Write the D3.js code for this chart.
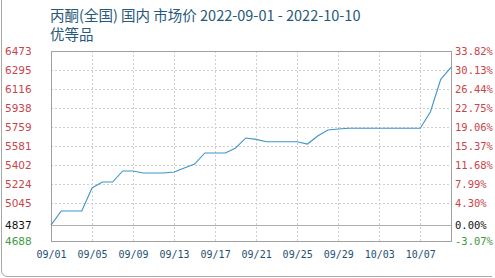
<!DOCTYPE html>
<html>
<head>
<meta charset="utf-8">
<script src="https://cdn.jsdelivr.net/npm/d3@7"></script>
<style>
  body { margin: 0; background: #fff; }
  svg { display: block; }
</style>
</head>
<body>
<script>
var svgWidth = 495;
var svgHeight = 278;

var margin = { top: 51, right: 44, bottom: 37, left: 51 };
var width = svgWidth - margin.left - margin.right;
var height = svgHeight - margin.top - margin.bottom;

// data
var dates = ["2022-09-01","2022-09-02","2022-09-03","2022-09-04","2022-09-05","2022-09-06","2022-09-07","2022-09-08",
  "2022-09-09","2022-09-10","2022-09-11","2022-09-12","2022-09-13","2022-09-14","2022-09-15","2022-09-16",
  "2022-09-17","2022-09-18","2022-09-19","2022-09-20","2022-09-21","2022-09-22","2022-09-23","2022-09-24",
  "2022-09-25","2022-09-26","2022-09-27","2022-09-28","2022-09-29","2022-09-30","2022-10-01","2022-10-02",
  "2022-10-03","2022-10-04","2022-10-05","2022-10-06","2022-10-07","2022-10-08","2022-10-09","2022-10-10"];
var prices = [4837,4970,4970,4970,5186,5242,5242,5346,
  5346,5327,5327,5327,5336,5374,5411,5515,
  5515,5515,5562,5656,5643,5621,5621,5621,
  5621,5599,5674,5731,5740,5747,5747,5747,
  5747,5747,5747,5747,5747,5903,6207,6320];

var basePrice = 4837;
var yTickValues = [6473, 6295, 6116, 5938, 5759, 5581, 5402, 5224, 5045, 4837, 4688];
var yTickLabels = ["6473","6295","6116","5938","5759","5581","5402","5224","5045","4837","4688"];
var pctLabels = ["33.82%","30.13%","26.44%","22.75%","19.06%","15.37%","11.68%","7.99%","4.30%","0.00%","-3.07%"];
var xTicks = ["2022-09-01","2022-09-05","2022-09-09","2022-09-13","2022-09-17","2022-09-21","2022-09-25","2022-09-29","2022-10-03","2022-10-07"];

var parseDate = d3.timeParse("%Y-%m-%d");
var data = dates.map(function(d, i) { return { date: parseDate(d), price: prices[i] }; });

var svg = d3.select("body")
  .append("svg")
  .attr("width", svgWidth)
  .attr("height", svgHeight);

// outer frame (left + bottom edges visible)
svg.append("path")
  .attr("d", "M1.5,0 L1.5,270 Q1.5,276.5 8,276.5 L492,276.5")
  .attr("fill", "none")
  .attr("stroke", "#a8a8a8");

// title
var title = svg.append("text")
  .attr("font-family", "'Noto Sans CJK SC', sans-serif")
  .attr("font-size", 14.5)
  .attr("fill", "#27597a");
title.append("tspan").attr("x", 50).attr("y", 21).text("丙酮(全国) 国内 市场价 2022-09-01 - 2022-10-10");
title.append("tspan").attr("x", 50).attr("y", 40).text("优等品");

var chartGroup = svg.append("g")
  .attr("transform", `translate(${margin.left}, ${margin.top})`);

var xScale = d3.scaleTime()
  .domain([parseDate(dates[0]), parseDate(dates[dates.length - 1])])
  .range([0, width]);

var yScale = d3.scaleLinear()
  .domain([4688, 6473])
  .range([height, 0]);

// horizontal grid
chartGroup.selectAll(".hgrid")
  .data(yTickValues.filter(v => v !== 6473 && v !== 4688 && v !== basePrice))
  .enter()
  .append("line")
  .attr("x1", 0)
  .attr("x2", width)
  .attr("y1", d => Math.round(yScale(d)) + 0.5)
  .attr("y2", d => Math.round(yScale(d)) + 0.5)
  .attr("stroke", "#cfcfcf")
  .attr("stroke-dasharray", "2,2");

// vertical grid
chartGroup.selectAll(".vgrid")
  .data(xTicks.slice(1))
  .enter()
  .append("line")
  .attr("x1", d => Math.round(xScale(parseDate(d))) + 0.5)
  .attr("x2", d => Math.round(xScale(parseDate(d))) + 0.5)
  .attr("y1", 0)
  .attr("y2", height)
  .attr("stroke", "#cfcfcf")
  .attr("stroke-dasharray", "2,2");

// base line
chartGroup.append("line")
  .attr("x1", 0)
  .attr("x2", width)
  .attr("y1", Math.round(yScale(basePrice)) + 0.5)
  .attr("y2", Math.round(yScale(basePrice)) + 0.5)
  .attr("stroke", "#b0b0b0");

// plot border
chartGroup.append("rect")
  .attr("x", 0.5)
  .attr("y", 0.5)
  .attr("width", width)
  .attr("height", height)
  .attr("fill", "none")
  .attr("stroke", "#a0a0a0");

// axes
function tickColor(v) {
  if (v > basePrice) return "#c8454a";
  if (v < basePrice) return "#3f9a3f";
  return "#111";
}

var leftAxis = d3.axisLeft(yScale)
  .tickValues(yTickValues)
  .tickSize(0)
  .tickPadding(0)
  .tickFormat((d, i) => yTickLabels[i]);

var rightAxis = d3.axisRight(yScale)
  .tickValues(yTickValues)
  .tickSize(0)
  .tickPadding(4)
  .tickFormat((d, i) => pctLabels[i]);

var bottomAxis = d3.axisBottom(xScale)
  .tickValues(xTicks.map(parseDate))
  .tickSize(0)
  .tickPadding(10)
  .tickFormat(d3.timeFormat("%m/%d"));

var gl = chartGroup.append("g").call(leftAxis);
gl.select(".domain").remove();
gl.selectAll("text")
  .attr("x", -46)
  .attr("text-anchor", "start")
  .attr("font-family", "'DejaVu Sans', sans-serif")
  .attr("font-size", 10.5)
  .attr("fill", d => tickColor(d));

var gr = chartGroup.append("g")
  .attr("transform", `translate(${width}, 0)`)
  .call(rightAxis);
gr.select(".domain").remove();
gr.selectAll("text")
  .attr("font-family", "'DejaVu Sans Mono', monospace")
  .attr("font-size", 10.5)
  .attr("fill", d => tickColor(d));

var gb = chartGroup.append("g")
  .attr("transform", `translate(0, ${height})`)
  .call(bottomAxis);
gb.select(".domain").remove();
gb.selectAll("text")
  .attr("font-family", "'DejaVu Sans Mono', monospace")
  .attr("font-size", 10)
  .attr("fill", "#1f4f72");

// price line
var line = d3.line()
  .x(d => xScale(d.date))
  .y(d => yScale(d.price));

chartGroup.append("path")
  .datum(data)
  .attr("d", line)
  .attr("fill", "none")
  .attr("stroke", "#3f94cc")
  .attr("stroke-width", 1.1);
</script>
</body>
</html>
